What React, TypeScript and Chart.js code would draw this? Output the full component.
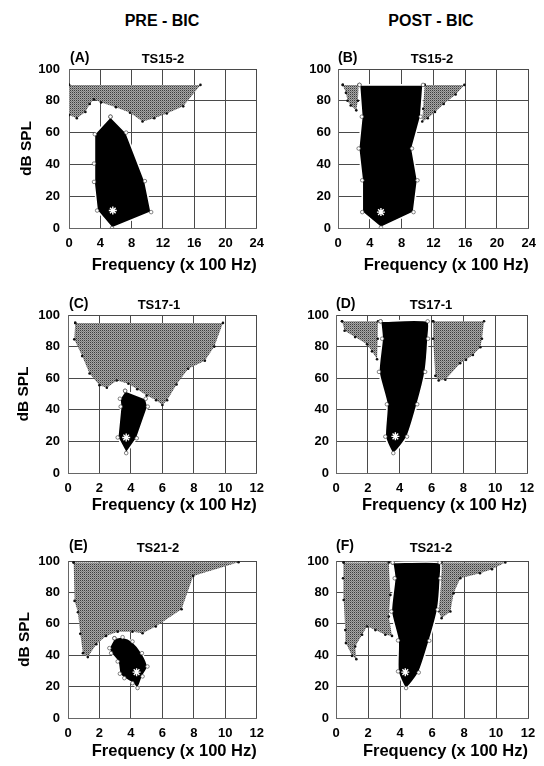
import React, { useEffect, useRef } from 'react';
import { Chart, registerables } from 'chart.js';
Chart.register(...registerables);

type P = [number, number][];

// ---------- data (frequency in x100 Hz, level in dB SPL) ----------
const yTickStep = 20;
const yMax = 100;
const xMaxWide = 24;
const xStepWide = 4;
const xMaxNarrow = 12;
const xStepNarrow = 2;

const columnHeaders = ['PRE - BIC', 'POST - BIC'];
const panelLetters = ['(A)', '(B)', '(C)', '(D)', '(E)', '(F)'];
const unitNames = ['TS15-2', 'TS15-2', 'TS17-1', 'TS17-1', 'TS21-2', 'TS21-2'];

// Panel A (TS15-2, pre)
const inhibA: P = [[0, 90], [16.8, 90], [14.6, 76.5], [12.5, 72], [10.9, 69], [9.4, 67], [7.8, 72.5], [6, 76], [4.1, 79], [3.2, 81], [2.65, 78], [2.1, 73], [1, 69], [0, 71]];
const excitA: P = [[5.3, 70], [7.3, 60], [9.7, 29.5], [10.5, 10], [5.5, 0], [3.6, 11], [3.2, 29], [3.2, 40.5], [3.3, 59]];
const bestA: P = [[5.6, 11]];

// Panel B (TS15-2, post)
const inhibB1: P = [[0.6, 90], [2.6, 90], [2.5, 80], [2.3, 74], [1.6, 77], [1.2, 80], [1.0, 85]];
const inhibB2: P = [[10.9, 90], [15.9, 90], [14.8, 84], [13.3, 78], [12.2, 73], [11.3, 69], [10.6, 67], [10.7, 75]];
const excitB: P = [[2.7, 90], [10.7, 90], [10.4, 70], [9.3, 50], [10.0, 30], [9.5, 10], [5.4, 0.3], [3.05, 10], [3.05, 30], [2.6, 50], [3.0, 70]];
const bestB: P = [[5.4, 10]];

// Panel C (TS17-1, pre)
const inhibC: P = [[0.46, 95], [9.85, 95], [9.3, 80], [8.7, 71], [7.64, 66], [6.9, 56], [6.3, 46], [6.0, 43], [5.6, 46], [5.0, 49], [4.4, 53], [3.84, 56.5], [3.1, 58.5], [2.47, 54], [2.0, 55.6], [1.37, 63], [0.9, 74], [0.4, 84.6]];
const excitC: P = [[3.63, 52], [4.94, 47], [5.07, 42], [4.37, 22], [3.7, 12.6], [3.16, 22.5], [3.35, 42], [3.3, 47]];
const bestC: P = [[3.7, 22.5]];

// Panel D (TS17-1, post)
const inhibD1: P = [[0.38, 96], [2.64, 96], [2.62, 85], [2.58, 72], [2.26, 77], [1.95, 81.5], [1.2, 86], [0.54, 90]];
const inhibD2: P = [[6.1, 96], [9.3, 96], [9.17, 85], [9.07, 79.6], [8.6, 74.7], [8.17, 71.6], [7.8, 69.5], [6.87, 59], [6.45, 58.5], [6.24, 61.5], [6.1, 85]];
const excitD: P = [[2.8, 96], [5.76, 96], [5.78, 85], [5.6, 64], [5.1, 43.5], [4.46, 23], [3.6, 12.6], [3.1, 23], [3.2, 43.5], [2.7, 64], [2.9, 85]];
const bestD: P = [[3.73, 23.2]];

// Panel E (TS21-2, pre)
const inhibE: P = [[0.36, 99], [10.84, 99.2], [7.96, 90.5], [7.22, 69.3], [5.58, 58.3], [4.74, 54], [4.1, 55], [3.16, 55], [2.42, 52.3], [1.8, 47], [1.26, 38.8], [0.95, 41.3], [0.78, 53.6], [0.63, 67.4], [0.42, 74.6]];
const excitE: P = [[2.95, 50.8], [3.47, 51.5], [4.1, 48.7], [4.7, 41.3], [5.05, 32.8], [4.74, 26.5], [4.42, 19.1], [4.1, 22.2], [3.58, 25.4], [3.3, 28.2], [3.16, 36], [2.74, 41.3], [2.63, 44.5]];
const bestE: P = [[4.36, 29.2]];

// Panel F (TS21-2, post)
const inhibF1: P = [[0.48, 99], [3.3, 99], [3.4, 78.4], [3.3, 64.6], [3.5, 52.3], [3.08, 53], [2.46, 56], [1.94, 58.3], [1.63, 53], [1.2, 45.5], [1.27, 37.5], [1.0, 39.6], [0.62, 47.7], [0.58, 56], [0.48, 75.2], [0.44, 89]];
const inhibF2: P = [[6.58, 99], [10.58, 99], [9.75, 94.7], [9.0, 92.2], [7.77, 89], [7.35, 79.4], [7.15, 67.8], [6.6, 63.6], [6.4, 68], [6.55, 89]];
const excitF: P = [[3.54, 99], [6.48, 99], [6.52, 89], [6.35, 69], [5.83, 49.2], [5.17, 29], [4.38, 19.1], [3.88, 29.7], [3.88, 49.4], [3.46, 67.8], [3.67, 89]];
const bestF: P = [[4.33, 29.2]];

// ---------- layout ----------
const FONT = '"Liberation Sans", Arial, Helvetica, sans-serif';

interface PanelCfg {
  idx: number;
  left: number; top: number; w: number; h: number; // canvas box (page px)
  cl: number; ct: number; cr: number; cb: number; // chart area (page px)
  xMax: number; xStep: number;
  inhib: P[]; excit: P; best: P;
  yTitle: boolean; yTitleX: number; xTitleY: number; yTickPad: number;
  tension: number;
}

const panels: PanelCfg[] = [
  { idx: 0, left: 0, top: 40, w: 272, h: 238, cl: 69, ct: 69, cr: 259, cb: 228, xMax: xMaxWide, xStep: xStepWide, inhib: [inhibA], excit: excitA, best: bestA, yTitle: true, yTitleX: 27, xTitleY: 265, yTickPad: 9, tension: 0 },
  { idx: 1, left: 272, top: 40, w: 272, h: 238, cl: 338, ct: 69, cr: 529, cb: 228, xMax: xMaxWide, xStep: xStepWide, inhib: [inhibB1, inhibB2], excit: excitB, best: bestB, yTitle: false, yTitleX: 0, xTitleY: 265, yTickPad: 7, tension: 0 },
  { idx: 2, left: 0, top: 290, w: 272, h: 233, cl: 68, ct: 315, cr: 257, cb: 473, xMax: xMaxNarrow, xStep: xStepNarrow, inhib: [inhibC], excit: excitC, best: bestC, yTitle: true, yTitleX: 24, xTitleY: 505, yTickPad: 8, tension: 0 },
  { idx: 3, left: 272, top: 290, w: 272, h: 233, cl: 336, ct: 315, cr: 527, cb: 473, xMax: xMaxNarrow, xStep: xStepNarrow, inhib: [inhibD1, inhibD2], excit: excitD, best: bestD, yTitle: false, yTitleX: 0, xTitleY: 505, yTickPad: 7, tension: 0.2 },
  { idx: 4, left: 0, top: 530, w: 272, h: 236, cl: 68, ct: 561, cr: 258, cb: 718, xMax: xMaxNarrow, xStep: xStepNarrow, inhib: [inhibE], excit: excitE, best: bestE, yTitle: true, yTitleX: 25, xTitleY: 751, yTickPad: 8, tension: 0.3 },
  { idx: 5, left: 272, top: 530, w: 272, h: 236, cl: 336, ct: 561, cr: 528, cb: 718, xMax: xMaxNarrow, xStep: xStepNarrow, inhib: [inhibF1, inhibF2], excit: excitF, best: bestF, yTitle: false, yTitleX: 0, xTitleY: 751, yTickPad: 7, tension: 0.2 },
];

const labelPos = [
  { lx: 70, ly: 57, tx: 163, ty: 58 },
  { lx: 338, ly: 57, tx: 432, ty: 58 },
  { lx: 69, ly: 303, tx: 159, ty: 304 },
  { lx: 336, ly: 303, tx: 431, ty: 304 },
  { lx: 69, ly: 545, tx: 158, ty: 547 },
  { lx: 336, ly: 545, tx: 431, ty: 547 },
];

function grayPattern(ctx: CanvasRenderingContext2D) {
  const c = document.createElement('canvas');
  c.width = 2; c.height = 2;
  const g = c.getContext('2d')!;
  g.fillStyle = '#a6a6a6'; g.fillRect(0, 0, 2, 2);
  g.fillStyle = '#3c3c3c'; g.fillRect(0, 0, 1, 1);
  g.fillStyle = '#7c7c7c'; g.fillRect(1, 1, 1, 1);
  return ctx.createPattern(c, 'repeat');
}

function Panel({ cfg }: { cfg: PanelCfg }) {
  const ref = useRef<HTMLCanvasElement>(null);
  useEffect(() => {
    const canvas = ref.current!;
    const ctx = canvas.getContext('2d')!;
    const pat = grayPattern(ctx);
    const toPts = (p: P) => [...p, p[0]].map(([x, y]) => ({ x, y }));
    const tickFont = { family: FONT, size: 13, weight: 'bold' as const };
    const titleFont = { family: FONT, size: 16.5, weight: 'bold' as const, lineHeight: 1 };
    const yAxisW = cfg.cl - cfg.left;
    const xAxisH = cfg.top + cfg.h - cfg.cb;
    const datasets: any[] = [
      {
        label: 'best frequency', data: cfg.best.map(([x, y]) => ({ x, y })),
        pointStyle: 'star', pointRadius: 4, pointBorderColor: '#fff', pointBackgroundColor: '#fff', pointBorderWidth: 1.4, order: 0,
      },
      {
        label: 'excitatory', data: toPts(cfg.excit), showLine: true, fill: 'shape',
        backgroundColor: '#000', borderColor: '#fff', borderWidth: 1.6, tension: cfg.tension,
        pointRadius: 1.8, pointBackgroundColor: '#fff', pointBorderColor: '#333', pointBorderWidth: 0.6, order: 1,
      },
      ...cfg.inhib.map((p, i) => ({
        label: 'inhibitory ' + (i + 1), data: toPts(p), showLine: true, fill: 'shape',
        backgroundColor: pat, borderColor: 'rgba(0,0,0,0)', borderWidth: 0.01,
        pointRadius: 1.3, pointBackgroundColor: '#111', pointBorderColor: '#111', pointBorderWidth: 0, order: 2 + i,
      })),
    ];
    const chart = new Chart(canvas, {
      type: 'scatter',
      data: { datasets },
      options: {
        animation: false,
        responsive: false,
        events: [],
        layout: { padding: { left: 0, top: cfg.ct - cfg.top, right: cfg.left + cfg.w - cfg.cr, bottom: 0 } },
        plugins: { legend: { display: false }, tooltip: { enabled: false }, title: { display: false } },
        scales: {
          x: {
            type: 'linear', min: 0, max: cfg.xMax,
            ticks: { stepSize: cfg.xStep, padding: 8, font: tickFont, color: '#000', maxRotation: 0, autoSkip: false },
            grid: { color: '#4a4a4a', lineWidth: 1, drawTicks: false },
            border: { color: '#666', width: 1 },
            title: {
              display: true, text: 'Frequency (x 100 Hz)', align: 'end', font: titleFont, color: '#000',
              padding: { top: 0, bottom: cfg.top + cfg.h - cfg.xTitleY - 8.25 },
            },
            afterFit: (s: any) => { s.height = xAxisH; },
          },
          y: {
            type: 'linear', min: 0, max: yMax,
            ticks: { stepSize: yTickStep, padding: cfg.yTickPad, font: tickFont, color: '#000' },
            grid: { color: '#4a4a4a', lineWidth: 1, drawTicks: false },
            border: { color: '#666', width: 1 },
            title: {
              display: cfg.yTitle, text: 'dB SPL', font: { family: FONT, size: 15.5, weight: 'bold', lineHeight: 1 }, color: '#000',
              padding: { top: cfg.yTitleX - 7.75, bottom: 0 },
            },
            afterFit: (s: any) => { s.width = yAxisW; },
          },
        },
      } as any,
    });
    return () => chart.destroy();
  }, [cfg]);
  return (
    <canvas
      ref={ref}
      width={cfg.w}
      height={cfg.h}
      style={{ position: 'absolute', left: cfg.left, top: cfg.top, width: cfg.w, height: cfg.h }}
    />
  );
}

const textStyle: React.CSSProperties = {
  position: 'absolute', fontFamily: FONT, fontWeight: 'bold', color: '#000', whiteSpace: 'nowrap', lineHeight: 1,
};

export default function App() {
  return (
    <div style={{ position: 'absolute', left: 0, top: 0, width: 544, height: 766, background: '#fff', overflow: 'hidden' }}>
      <div style={{ ...textStyle, left: 162, top: 21, fontSize: 16, transform: 'translate(-50%, -50%)' }}>{columnHeaders[0]}</div>
      <div style={{ ...textStyle, left: 431, top: 21, fontSize: 16, transform: 'translate(-50%, -50%)' }}>{columnHeaders[1]}</div>
      {panels.map((p) => (
        <Panel key={p.idx} cfg={p} />
      ))}
      {labelPos.map((l, i) => (
        <React.Fragment key={i}>
          <div style={{ ...textStyle, left: l.lx, top: l.ly, fontSize: 14, transform: 'translate(0, -50%)' }}>{panelLetters[i]}</div>
          <div style={{ ...textStyle, left: l.tx, top: l.ty, fontSize: 13, transform: 'translate(-50%, -50%)' }}>{unitNames[i]}</div>
        </React.Fragment>
      ))}
    </div>
  );
}
